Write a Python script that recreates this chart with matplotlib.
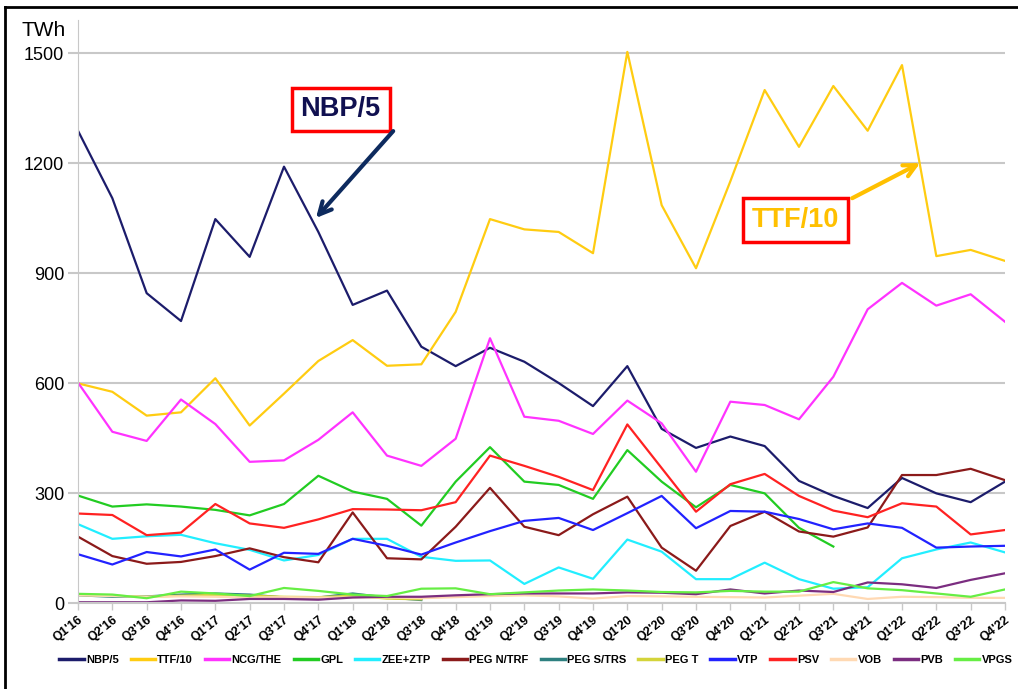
import matplotlib
matplotlib.use("Agg")
import matplotlib.pyplot as plt
from matplotlib.lines import Line2D

plt.rcParams['font.family'] = ['Liberation Sans', 'DejaVu Sans']

quarters = ["Q1'16", "Q2'16", "Q3'16", "Q4'16", "Q1'17", "Q2'17", "Q3'17", "Q4'17",
            "Q1'18", "Q2'18", "Q3'18", "Q4'18", "Q1'19", "Q2'19", "Q3'19", "Q4'19",
            "Q1'20", "Q2'20", "Q3'20", "Q4'20", "Q1'21", "Q2'21", "Q3'21", "Q4'21",
            "Q1'22", "Q2'22", "Q3'22", "Q4'22"]

# TWh per quarter (NBP divided by 5, TTF divided by 10)
nbp = [1288, 1104, 845, 769, 1047, 944, 1190, 1012, 813, 852, 699, 646, 696, 658,
       600, 537, 646, 475, 423, 454, 428, 333, 292, 259, 341, 299, 275, 331]
ttf = [599, 576, 511, 520, 613, 484, 571, 660, 717, 647, 651, 794, 1047, 1019,
       1012, 954, 1503, 1085, 913, 1150, 1399, 1244, 1410, 1288, 1467, 946, 963, 933]
ncg = [601, 467, 442, 555, 488, 385, 389, 445, 520, 402, 374, 448, 722, 508,
       497, 461, 552, 490, 358, 549, 540, 501, 617, 801, 873, 811, 842, 767]
gpl = [293, 263, 269, 263, 254, 239, 270, 347, 304, 284, 211, 331, 425, 331,
       322, 284, 417, 331, 261, 322, 299, 205, 154]
zee = [215, 175, 182, 186, 163, 145, 116, 131, 175, 175, 126, 115, 116, 52,
       97, 66, 173, 140, 65, 65, 110, 65, 39, 43, 122, 146, 165, 138]
peg_n = [181, 128, 107, 112, 128, 149, 125, 111, 247, 122, 119, 208, 314, 208,
         185, 242, 290, 151, 88, 210, 249, 195, 181, 206, 349, 349, 366, 335]
peg_s = [21, 17, 18, 23, 26, 23, 15, 15, 26, 15, 8]
peg_t = [22, 20, 17, 20, 22, 20, 17, 16, 20, 12, 10]
vtp = [133, 105, 139, 127, 146, 91, 137, 134, 175, 156, 132, 165, 196, 224,
       232, 199, 245, 292, 204, 251, 249, 229, 201, 217, 205, 151, 154, 156]
psv = [244, 240, 185, 192, 270, 217, 205, 228, 256, 255, 253, 275, 402, 374,
       344, 308, 487, 368, 249, 324, 352, 292, 252, 234, 272, 263, 187, 199]
vob = [21, 19, 17, 18, 17, 15, 16, 15, 15, 15, 13, 16, 19, 21,
       18, 12, 19, 18, 17, 16, 15, 20, 25, 11, 17, 16, 14, 14]
pvb = [2, 2, 2, 7, 6, 11, 11, 9, 15, 17, 17, 21, 24, 26,
       26, 26, 29, 28, 24, 37, 26, 34, 30, 56, 51, 41, 63, 81]
vpgs = [25, 23, 13, 31, 26, 19, 41, 33, 23, 19, 39, 40, 24, 29,
        34, 37, 34, 30, 29, 33, 31, 31, 57, 40, 35, 26, 17, 37]

series = [
    ("NBP/5", nbp, "#1c1c6b"),
    ("TTF/10", ttf, "#ffcc11"),
    ("NCG/THE", ncg, "#ff33ff"),
    ("GPL", gpl, "#22cc22"),
    ("ZEE+ZTP", zee, "#22eeff"),
    ("PEG N/TRF", peg_n, "#8b1a1a"),
    ("PEG S/TRS", peg_s, "#2e8080"),
    ("PEG T", peg_t, "#d4d43a"),
    ("VTP", vtp, "#2222ff"),
    ("PSV", psv, "#ff2222"),
    ("VOB", vob, "#ffd9b3"),
    ("PVB", pvb, "#7b2d80"),
    ("VPGS", vpgs, "#66ee44"),
]

fig = plt.figure(figsize=(10.18, 6.89), dpi=100)
ax = fig.add_axes([78/1018, 1 - 603/689, (1005 - 78)/1018, (603 - 20)/689])

x = list(range(len(quarters)))
for name, vals, col in series:
    ax.plot(x[:len(vals)], vals, color=col, lw=1.6, label=name)

ax.set_xlim(0, len(quarters) - 1)
ax.set_ylim(0, 1590)
ax.set_yticks([0, 300, 600, 900, 1200, 1500])
ax.set_xticks(x)
ax.set_xticklabels(quarters, rotation=38, ha='right', rotation_mode='anchor',
                   fontsize=9, fontweight='bold')
ax.tick_params(axis='y', labelsize=13, length=7, color='#c8c8c8', width=1.5, pad=3)
ax.tick_params(axis='x', length=5, color='#c8c8c8', width=1, pad=3)
ax.grid(axis='y', color='#c8c8c8', lw=1.5)
ax.set_axisbelow(True)
for s in ['top', 'right']:
    ax.spines[s].set_visible(False)
ax.spines['left'].set_color('#c8c8c8')
ax.spines['bottom'].set_color('#c8c8c8')
ax.spines['bottom'].set_linewidth(1.5)

fig.text(21/1018, 1 - 31/689, "TWh", fontsize=15, va='center', ha='left')

# annotations
ax.text(7.65, 1346, "NBP/5", color="#101050", fontsize=19.5, fontweight='bold',
        ha='center', va='center',
        bbox=dict(boxstyle='square,pad=0.33', fc='white', ec='#ff0000', lw=2.5))
ax.annotate('', xy=(6.93, 1050), xytext=(9.18, 1287),
            arrowprops=dict(arrowstyle='->', lw=3, color='#0d2a5e', mutation_scale=22,
                            shrinkA=0, shrinkB=0))
ax.text(20.9, 1044, "TTF/10", color="#ffc000", fontsize=19.5, fontweight='bold',
        ha='center', va='center',
        bbox=dict(boxstyle='square,pad=0.33', fc='white', ec='#ff0000', lw=2.5))
ax.annotate('', xy=(24.53, 1200), xytext=(22.55, 1104),
            arrowprops=dict(arrowstyle='->', lw=3, color='#ffc000', mutation_scale=22,
                            shrinkA=0, shrinkB=0))

leg = fig.legend(loc='center', bbox_to_anchor=(0.5265, 1 - 660/689), ncol=13, frameon=False,
                 prop={'size': 8, 'weight': 'bold'}, handlelength=2.2, handletextpad=0.2,
                 columnspacing=1.07)
for h in leg.legend_handles:
    h.set_linewidth(2.5)

# outer frame
fig.add_artist(Line2D([5/1018, 5/1018], [0, 1 - 7/689], color='black', lw=2))
fig.add_artist(Line2D([5/1018, 1], [1 - 7/689, 1 - 7/689], color='black', lw=2))

fig.savefig("out.png", dpi=100)
